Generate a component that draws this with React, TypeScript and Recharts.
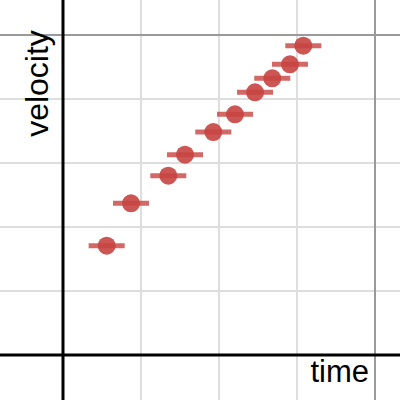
import React from "react";
import { ScatterChart, Scatter, XAxis, YAxis, ReferenceLine, ErrorBar } from "recharts";

const timeValues = [0.56, 0.872, 1.35, 1.564, 1.927, 2.205, 2.462, 2.683, 2.91, 3.081];
const velocityValues = [1.708, 2.37, 2.802, 3.13, 3.484, 3.761, 4.105, 4.323, 4.542, 4.833];
const timeError = 0.231;
const minorX = [1, 2, 3];
const majorX = [4];
const minorY = [1, 2, 3, 4];
const majorY = [5];
const xLabel = "time";
const yLabel = "velocity";

const data = timeValues.map((t, i) => ({ t, v: velocityValues[i], err: timeError }));

const RED = "#c74440";

const Dot = (props: any) => {
  const { cx, cy } = props;
  if (cx == null || cy == null) return null;
  return <circle cx={cx} cy={cy} r={9} fill={RED} fillOpacity={0.9} />;
};

export default function App() {
  return (
    <div style={{ position: "absolute", left: 0, top: 0, width: 400, height: 400, background: "#fff" }}>
      <ScatterChart width={400} height={400} margin={{ top: 0, right: 0, bottom: 0, left: 0 }}>
        <XAxis type="number" dataKey="t" hide domain={[-63 / 78, 337 / 78]} allowDataOverflow />
        <YAxis type="number" dataKey="v" hide domain={[-45 / 64, 355 / 64]} allowDataOverflow />
        {minorX.map((x) => (
          <ReferenceLine key={"mx" + x} x={x} stroke="#dedede" strokeWidth={2} />
        ))}
        {minorY.map((y) => (
          <ReferenceLine key={"my" + y} y={y} stroke="#dedede" strokeWidth={2} />
        ))}
        {majorX.map((x) => (
          <ReferenceLine key={"Mx" + x} x={x} stroke="#9a9a9a" strokeWidth={2} />
        ))}
        {majorY.map((y) => (
          <ReferenceLine key={"My" + y} y={y} stroke="#9a9a9a" strokeWidth={2} />
        ))}
        <ReferenceLine x={0} stroke="#000" strokeWidth={3} />
        <ReferenceLine y={0} stroke="#000" strokeWidth={3} />
        <Scatter data={data} shape={<Dot />} isAnimationActive={false}>
          <ErrorBar dataKey="err" direction="x" width={0} stroke={RED} strokeOpacity={0.8} strokeWidth={5} isAnimationActive={false} />
        </Scatter>
      </ScatterChart>
      <svg width={400} height={400} style={{ position: "absolute", left: 0, top: 0, pointerEvents: "none" }}>
        <text x={369} y={382} textAnchor="end" fontFamily="'Liberation Sans', Arial, sans-serif" fontSize={31} fill="#000">
          {xLabel}
        </text>
        <text
          x={48}
          y={83.5}
          textAnchor="middle"
          transform="rotate(-90, 48, 83.5)"
          fontFamily="'Liberation Sans', Arial, sans-serif"
          fontSize={32}
          fill="#000"
        >
          {yLabel}
        </text>
      </svg>
    </div>
  );
}
